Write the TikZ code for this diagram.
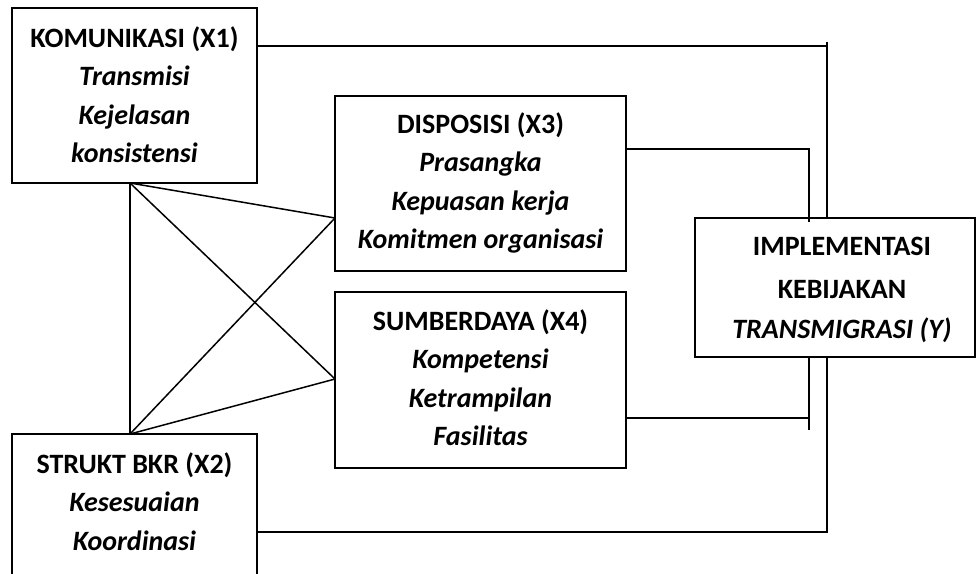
\documentclass[tikz,border=0pt]{standalone}
\usepackage{fontspec}
\setmainfont{Carlito}
\begin{document}
\begin{tikzpicture}[x=1pt,y=-1pt,
  box/.style={draw, line width=1.5pt, fill=white, inner sep=0pt, outer sep=0pt, anchor=north west},
  lbl/.style={anchor=base, inner sep=0pt, font=\fontsize{28}{32}\selectfont\bfseries},
  itl/.style={anchor=base, inner sep=0pt, font=\fontsize{28}{32}\selectfont\bfseries\itshape},
  conn/.style={line width=1.5pt}]
\useasboundingbox (0,0) rectangle (976,573);
\clip (0,0) rectangle (976,573);
% boxes
\node[box, minimum width=245pt, minimum height=175pt] (k1) at (12,8) {};
\node[box, minimum width=245pt, minimum height=170pt] (x2) at (12,434) {};
\node[box, minimum width=291pt, minimum height=175pt] (x3) at (335,96) {};
\node[box, minimum width=291pt, minimum height=176pt] (x4) at (335,292) {};
\node[box, minimum width=280pt, minimum height=139pt] (y) at (695,218) {};
% texts
\node[lbl] (k1a) at (134.5,47) {KOMUNIKASI (X1)};
\node[itl] (k1b) at (134.5,85.5) {Transmisi};
\node[itl] (k1c) at (134.5,124) {Kejelasan};
\node[itl] (k1d) at (134.5,162.5) {konsistensi};
\node[lbl] (x2a) at (134.5,473) {STRUKT BKR (X2)};
\node[itl] (x2b) at (134.5,511.5) {Kesesuaian};
\node[itl] (x2c) at (134.5,550) {Koordinasi};
\node[lbl] (x3a) at (480.5,133) {DISPOSISI (X3)};
\node[itl] (x3b) at (480.5,171.5) {Prasangka};
\node[itl] (x3c) at (480.5,210) {Kepuasan kerja};
\node[itl] (x3d) at (480.5,248.5) {Komitmen organisasi};
\node[lbl] (x4a) at (480.5,330) {SUMBERDAYA (X4)};
\node[itl] (x4b) at (480.5,368.5) {Kompetensi};
\node[itl] (x4c) at (480.5,407) {Ketrampilan};
\node[itl] (x4d) at (480.5,445.5) {Fasilitas};
\node[lbl] (ya) at (842,255) {IMPLEMENTASI};
\node[lbl] (yb) at (842,298) {KEBIJAKAN};
\node[itl] (yc) at (842,338.5) {TRANSMIGRASI (Y)};
% coordinates
\coordinate (kb) at (k1.south -| 130,0);
\coordinate (xb) at (x2.north -| 130,0);
\coordinate (d3) at (x3.west |- 0,218);
\coordinate (d4) at (x4.west |- 0,379);
\coordinate (r1) at (827,42);
\coordinate (r1c) at (827,46);
\coordinate (s3) at (809,222);
\coordinate (s4) at (809,418);
\coordinate (s4e) at (809,430);
% connectors
\draw[conn] (kb) -- (xb);
\draw[conn] (kb) -- (d3);
\draw[conn] (kb) -- (d4);
\draw[conn] (xb) -- (d3);
\draw[conn] (xb) -- (d4);
\draw[conn] (k1.east |- r1c) -- (r1c);
\draw[conn] (r1) -- (y.north -| r1);
\draw[conn] (x2.east |- 0,532) -| (y.south -| r1);
\draw[conn] (x3.east |- 0,149) -| (s3);
\draw[conn] (x4.east |- s4) -- (s4);
\draw[conn] (y.south -| s4) -- (s4e);
\end{tikzpicture}
\end{document}
